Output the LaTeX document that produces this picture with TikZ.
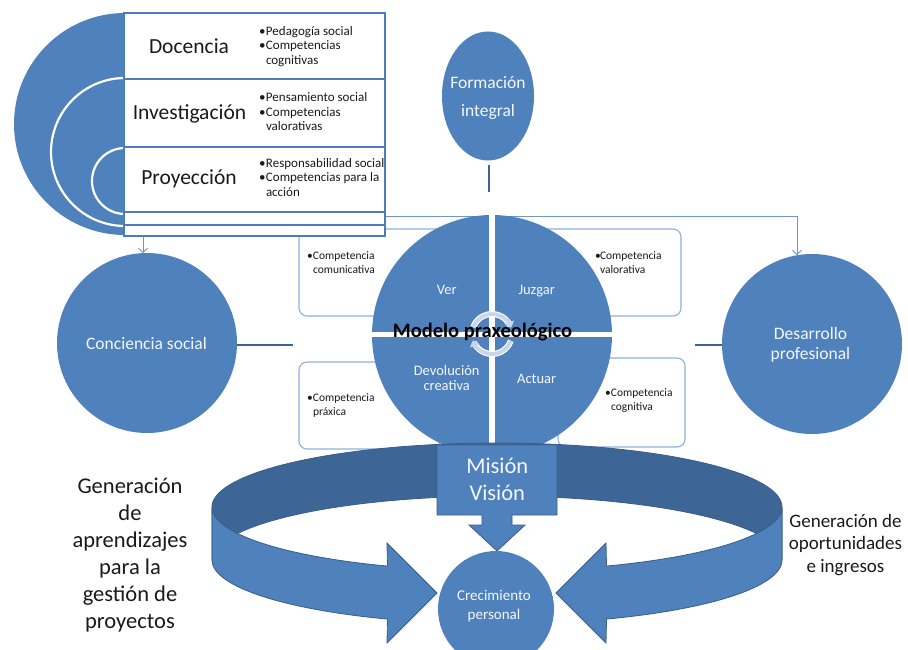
\documentclass[tikz,border=0pt]{standalone}
\usepackage{fontspec}
\setmainfont{Carlito}
\usetikzlibrary{arrows.meta,calc,shapes.geometric,backgrounds}
\definecolor{mblue}{HTML}{4F81BD}
\definecolor{dblue}{HTML}{3D6696}
\definecolor{lineblue}{HTML}{385D8A}
\definecolor{connblue}{HTML}{6E97C9}
\definecolor{boxblue}{HTML}{8FB0DA}
\definecolor{stubblue}{HTML}{3D6393}
\definecolor{iconc}{HTML}{C8D5EA}
\definecolor{tblblue}{HTML}{4A7DBA}
\definecolor{wtext}{HTML}{F4F7FB}
\definecolor{ktext}{HTML}{1A1A1A}
\newcommand{\fsz}[2]{\fontsize{#1}{#2}\selectfont}
\newcommand{\mycent}[1]{\begin{tabular}[t]{@{}c@{}}#1\end{tabular}}
\newcommand{\myleft}[1]{\begin{tabular}[t]{@{}l@{}}#1\end{tabular}}
\newcommand{\bul}[1]{\makebox[#1][l]{\textbullet}}
\begin{document}
\begin{tikzpicture}[x=1pt,y=-1pt,
  every node/.style={inner sep=0pt,outer sep=0pt},
  bcirc/.style={circle,fill=mblue},
  wt/.style={text=wtext,anchor=base},
  kt/.style={text=ktext,anchor=base},
  ktl/.style={text=ktext,anchor=base west},
  compbox/.style={draw=boxblue,line width=1.1pt,rounded corners=8pt,fill=white,rectangle},
  conn/.style={draw=connblue,line width=0.9pt,-{Straight Barb[length=4pt,width=9pt]}},
  stub/.style={draw=stubblue,line width=2.4pt},
  tline/.style={draw=tblblue,line width=2pt},
  ring/.style={draw=lineblue,line width=0.8pt},
  iconw/.style={draw=white,line width=6pt},
  icon/.style={draw=iconc,line width=3.8pt,-{Triangle[length=6pt,width=10pt]}},
]
\useasboundingbox (0,0) rectangle (908,650);

% competence boxes (behind the central circle)
\node[compbox,minimum width=166pt,minimum height=87pt] (bTL) at (382,272.5) {};
\node[compbox,minimum width=161pt,minimum height=87pt] (bTR) at (600.5,272.5) {};
\node[compbox,minimum width=141pt,minimum height=87pt] (bBL) at (369.5,405.5) {};
\node[compbox,minimum width=127pt,minimum height=89pt] (bBR) at (621.5,402.5) {};

% nested target + table
\node[bcirc,minimum size=222pt] (disk) at (125,124) {};
\draw[white,line width=2.2pt] (125,152) circle (74);
\draw[white,line width=2.2pt] (125,181) circle (33);
\node[draw=tblblue,line width=2pt,fill=white,rectangle,minimum width=261pt,minimum height=223pt] (tbl) at (254.5,124.5) {};
\draw[tline] (124,79) -- (385,79);
\draw[tline] (124,147) -- (385,147);
\draw[tline] (124,212) -- (385,212);
\draw[tline] (124,225) -- (385,225);

% central circle
\node[bcirc,minimum size=240pt] (mp) at (492,335) {};
\draw[white,line width=6pt] (mp.north) -- (mp.south);
\draw[white,line width=5pt] ($(mp.west)+(0,-1)$) -- ($(mp.east)+(0,-1)$);
\draw[iconw] ($(mp.center)+(0,-1)+(200:20)$) arc[start angle=200,end angle=335,radius=20];
\draw[iconw] ($(mp.center)+(0,-1)+(20:20)$) arc[start angle=20,end angle=155,radius=20];
\draw[icon] ($(mp.center)+(0,-1)+(200:20)$) arc[start angle=200,end angle=342,radius=20];
\draw[icon] ($(mp.center)+(0,-1)+(20:20)$) arc[start angle=20,end angle=162,radius=20];

% outer circles
\node[bcirc,minimum size=180pt] (cs) at (147,343) {};
\node[bcirc,minimum size=180pt] (dp) at (812,344) {};
\node[ellipse,fill=mblue,minimum width=92pt,minimum height=129pt] (fi) at (488,96) {};

% stubs
\coordinate (fiend) at (489,192);
\coordinate (csend) at (293,345);
\coordinate (dpend) at (695,345);
\draw[stub] ($(fi.south)+(1,5)$) -- (fiend);
\draw[stub] (cs.east |- csend) -- (csend);
\draw[stub] (dpend) -- (dp.west |- dpend);

% connectors
\begin{pgfonlayer}{background}
\draw[conn] ($(tbl.south -| cs.north)+(-4,0)$) -- ($(cs.north)+(-4,0)$);
\draw[conn] ($(tbl.south east)+(0,-20)$) -| ($(dp.north)+(-15,1)$);
\end{pgfonlayer}

% ring with converging arrows
\filldraw[ring,fill=dblue] plot[domain=180:360,samples=80] ({497+285*cos(\x)},{507+64*sin(\x)})
  -- plot[domain=360:180,samples=80] ({497+285*cos(\x)},{560+64*sin(\x)}) -- cycle;
\filldraw[ring,fill=mblue] plot[domain=180:112.6,samples=40] ({497+285*cos(\x)},{507+64*sin(\x)})
  -- (387,543) -- (437,593) -- (387,643)
  -- plot[domain=112.6:180,samples=40] ({497+285*cos(\x)},{560+64*sin(\x)}) -- cycle;
\filldraw[ring,fill=mblue] plot[domain=0:67.4,samples=40] ({497+285*cos(\x)},{507+64*sin(\x)})
  -- (606,543) -- (556,593) -- (606,643)
  -- plot[domain=67.4:0,samples=40] ({497+285*cos(\x)},{560+64*sin(\x)}) -- cycle;

% Mision / Vision down arrow
\filldraw[ring,fill=mblue] (437,445) -- (557,445) -- (557,515) -- (512,515) -- (512,525) -- (525,525)
  -- (497,551) -- (469,525) -- (482,525) -- (482,515) -- (437,515) -- cycle;
\node[bcirc,minimum size=116pt] (cp) at (496,609) {};

% texts: table
\node[kt,font=\fsz{21.5}{26}] (tdoc) at (189,53.3) {Docencia};
\node[kt,font=\fsz{21.5}{26}] (tinv) at (189.5,120) {Investigación};
\node[kt,font=\fsz{21.5}{26}] (tpro) at (189,185) {Proyección};
\node[ktl,font=\fsz{13}{14.5}] (l1) at (259,35.5) {\myleft{\bul{7pt}Pedagogía social\\ \bul{7pt}Competencias\\ \hspace*{7pt}cognitivas}};
\node[ktl,font=\fsz{13}{14.5}] (l2) at (259,101.7) {\myleft{\bul{7pt}Pensamiento social\\ \bul{7pt}Competencias\\ \hspace*{7pt}valorativas}};
\node[ktl,font=\fsz{13}{14.5}] (l3) at (259,167.3) {\myleft{\bul{7pt}Responsabilidad social\\ \bul{7pt}Competencias para la\\ \hspace*{7pt}acción}};

% competence texts
\node[ktl,font=\fsz{11.5}{14}] (c1) at (307,259.3) {\myleft{\bul{6pt}Competencia\\ \hspace*{6pt}comunicativa}};
\node[ktl,font=\fsz{11.5}{14}] (c2) at (595,259.3) {\myleft{\bul{5pt}Competencia\\ \hspace*{5pt}valorativa}};
\node[ktl,font=\fsz{11.5}{14}] (c3) at (307,401) {\myleft{\bul{6pt}Competencia\\ \hspace*{6pt}práxica}};
\node[ktl,font=\fsz{11.5}{14}] (c4) at (605,396) {\myleft{\bul{6pt}Competencia\\ \hspace*{6pt}cognitiva}};

% quadrant texts
\node[wt,font=\fsz{14.5}{15}] (qv) at (446.7,294) {Ver};
\node[wt,font=\fsz{14.5}{15}] (qj) at (536.7,294) {Juzgar};
\node[wt,font=\fsz{14.5}{15}] (qd) at (446.7,375.7) {\mycent{Devolución\\creativa}};
\node[wt,font=\fsz{14.5}{15}] (qa) at (536.7,383.3) {Actuar};
\node[kt,font=\fsz{20.5}{21}\bfseries,text=black] (mpt) at (482.5,337) {Modelo praxeológico};

% circle texts
\node[wt,font=\fsz{17.5}{20}] (cst) at (146.5,349) {Conciencia social};
\node[wt,font=\fsz{17.5}{20}] (dpt) at (810.5,339.3) {\mycent{Desarrollo\\profesional}};
\node[wt,font=\fsz{17.5}{28}] (fit) at (488,89) {\mycent{Formación\\integral}};
\node[wt,font=\fsz{22.5}{26.7}] (mvt) at (497.3,473.3) {\mycent{Misión\\Visión}};
\node[wt,font=\fsz{15}{19}] (cpt) at (494,600) {\mycent{Crecimiento\\personal}};

% side texts
\node[kt,font=\fsz{22.5}{27}] (lt) at (130,493.3) {\mycent{Generación\\de\\aprendizajes\\para la\\gestión de\\proyectos}};
\node[kt,font=\fsz{19}{22.5}] (rt) at (845.5,527.3) {\mycent{Generación de\\oportunidades\\e ingresos}};
\end{tikzpicture}
\end{document}
